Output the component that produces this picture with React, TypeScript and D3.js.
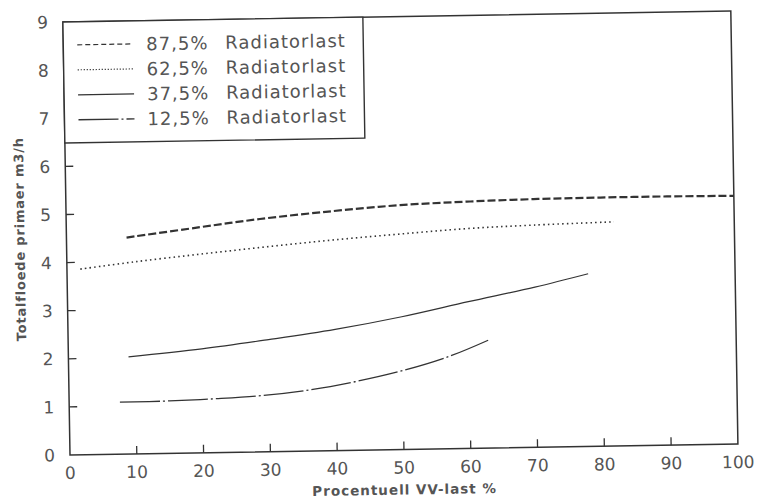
import React from "react";
import * as d3 from "d3";

const xTicks = [0, 10, 20, 30, 40, 50, 60, 70, 80, 90, 100];
const yTicks = [0, 1, 2, 3, 4, 5, 6, 7, 8, 9];

const s875x = [9, 20, 29, 40, 50, 60, 70, 80, 90, 100];
const s875y = [4.5, 4.69, 4.84, 4.98, 5.08, 5.13, 5.16, 5.17, 5.17, 5.16];
const s625x = [2, 10, 20, 30, 40, 50, 60, 70, 82];
const s625y = [3.86, 3.99, 4.13, 4.26, 4.38, 4.48, 4.57, 4.62, 4.66];
const s375x = [9, 20, 30, 40, 50, 60, 70, 78];
const s375y = [2.02, 2.16, 2.33, 2.52, 2.76, 3.05, 3.33, 3.59];
const s125x = [7.6, 15, 22, 29, 36, 43, 50, 57, 63];
const s125y = [1.08, 1.09, 1.12, 1.17, 1.27, 1.43, 1.64, 1.92, 2.25];

const legendNums = ["87,5%", "62,5%", "37,5%", "12,5%"];
const legendWord = "Radiatorlast";

const W = 668;
const H = 433;

const styles = [
  { dash: "8,3", width: 2.2, lDash: "5,3", lWidth: 1.2 },
  { dash: "1.5,3.2", width: 1.6, lDash: "1.2,1.8", lWidth: 1.2 },
  { dash: null, width: 1.2, lDash: null, lWidth: 1.3 },
  { dash: "40,3,2,3", width: 1.3, lDash: "40,3,2,3", lWidth: 1.4 },
];

export default function App() {
  const x = d3.scaleLinear().domain([0, 100]).range([0, W]);
  const y = d3.scaleLinear().domain([0, 9]).range([0, -H]);
  const line = d3
    .line<[number, number]>()
    .x((d) => x(d[0]))
    .y((d) => y(d[1]))
    .curve(d3.curveCatmullRom.alpha(0.5));

  const series = [
    d3.zip(s875x, s875y) as [number, number][],
    d3.zip(s625x, s625y) as [number, number][],
    d3.zip(s375x, s375y) as [number, number][],
    d3.zip(s125x, s125y) as [number, number][],
  ];

  const ink = "#333";
  const txt = "#555";
  const font = "DejaVu Sans, sans-serif";

  return (
    <svg
      width={760}
      height={499}
      style={{ position: "absolute", left: 0, top: 0, background: "#fff" }}
      fontFamily={font}
    >
      <g transform="translate(70,455) rotate(-0.94)">
        <rect x={0} y={-H} width={W} height={H} fill="none" stroke={ink} strokeWidth={1.5} />
        {xTicks.map((t) => (
          <g key={"x" + t}>
            {t > 0 && t < 100 && (
              <line x1={x(t)} x2={x(t)} y1={0} y2={-8} stroke={ink} strokeWidth={1.3} />
            )}
            <text x={x(t)} y={24} textAnchor="middle" fontSize={17} fill={txt}>
              {t}
            </text>
          </g>
        ))}
        {yTicks.map((t) => (
          <g key={"y" + t}>
            {t > 0 && t < 9 && (
              <line x1={0} x2={8} y1={y(t)} y2={y(t)} stroke={ink} strokeWidth={1.3} />
            )}
            <text x={-15} y={y(t)} dy="0.36em" textAnchor="end" fontSize={17} fill={txt}>
              {t}
            </text>
          </g>
        ))}
        {series.map((s, i) => (
          <path
            key={"s" + i}
            d={line(s) || ""}
            fill="none"
            stroke={ink}
            strokeWidth={styles[i].width}
            strokeDasharray={styles[i].dash || undefined}
          />
        ))}
        <g transform={`translate(0,${-H})`}>
          <rect x={0} y={0} width={300} height={121} fill="#fff" stroke={ink} strokeWidth={1.4} />
          {legendNums.map((n, i) => {
            const cy = 23 + i * 25;
            return (
              <g key={"l" + i}>
                <line
                  x1={14}
                  x2={70}
                  y1={cy}
                  y2={cy}
                  stroke={ink}
                  strokeWidth={styles[i].lWidth}
                  strokeDasharray={styles[i].lDash || undefined}
                />
                <text y={cy} dy="0.36em" fontSize={18} fill={txt} letterSpacing={1}>
                  <tspan x={83}>{n}</tspan>
                  <tspan x={162}>{legendWord}</tspan>
                </text>
              </g>
            );
          })}
        </g>
        <text
          x={W / 2}
          y={45}
          textAnchor="middle"
          fontSize={13.5}
          fontWeight="bold"
          fill={txt}
          letterSpacing={1}
        >
          Procentuell VV-last %
        </text>
        <text
          transform={`translate(-42,${-H / 2}) rotate(-90)`}
          textAnchor="middle"
          fontSize={13}
          fontWeight="bold"
          fill={txt}
          letterSpacing={0.8}
        >
          Totalfloede primaer m3/h
        </text>
      </g>
    </svg>
  );
}
